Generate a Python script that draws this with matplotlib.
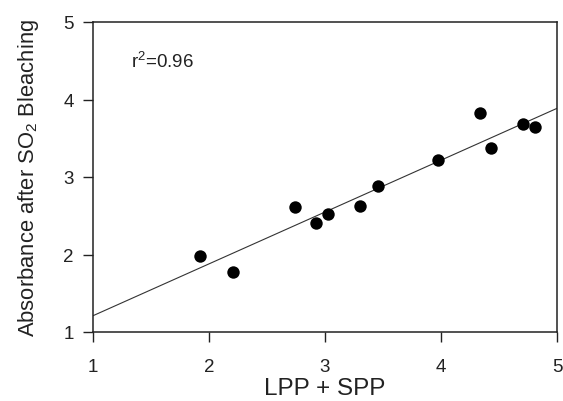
import numpy as np
import matplotlib
matplotlib.use("Agg")
import matplotlib.pyplot as plt

plt.rcParams['font.family'] = ['Liberation Sans', 'DejaVu Sans']
plt.rcParams['mathtext.default'] = 'regular'

# data
lpp_spp = [1.92, 2.21, 2.74, 2.92, 3.03, 3.30, 3.46, 3.97, 4.34, 4.43, 4.71, 4.81]
absorb = [1.98, 1.78, 2.61, 2.41, 2.52, 2.62, 2.88, 3.22, 3.83, 3.37, 3.68, 3.65]
slope = 0.669
intercept = 0.541
r2_text = 'r$^2$=0.96'
ticks = [1, 2, 3, 4, 5]

fig = plt.figure(figsize=(5.63, 4.02), dpi=100)
ax = fig.add_axes([93/563, 1 - 333/402, (557-93)/563, (333-23)/402])

xl = np.array([1, 5])
ax.plot(xl, slope*xl + intercept, color='#333333', lw=0.8, zorder=1)
ax.scatter(lpp_spp, absorb, s=80, color='black', zorder=2, linewidths=0)

ax.set_xlim(1, 5)
ax.set_ylim(1, 5)
ax.set_xticks(ticks)
ax.set_yticks(ticks)
ax.tick_params(axis='both', direction='out', length=7, width=1, labelsize=13.5, colors='#222222')
ax.tick_params(axis='x', pad=12)
ax.tick_params(axis='y', pad=7)
for sp in ax.spines.values():
    sp.set_linewidth(1.1)
    sp.set_color('#222222')

ax.set_xlabel('LPP + SPP', fontsize=17.5, color='#222222', labelpad=1)
ax.set_ylabel('Absorbance after SO$_2$ Bleaching', fontsize=15.8, color='#222222', labelpad=16)
ax.text(1.33, 4.5, r2_text, fontsize=13.5, color='#222222', va='center')

fig.savefig('out.png', dpi=100)
